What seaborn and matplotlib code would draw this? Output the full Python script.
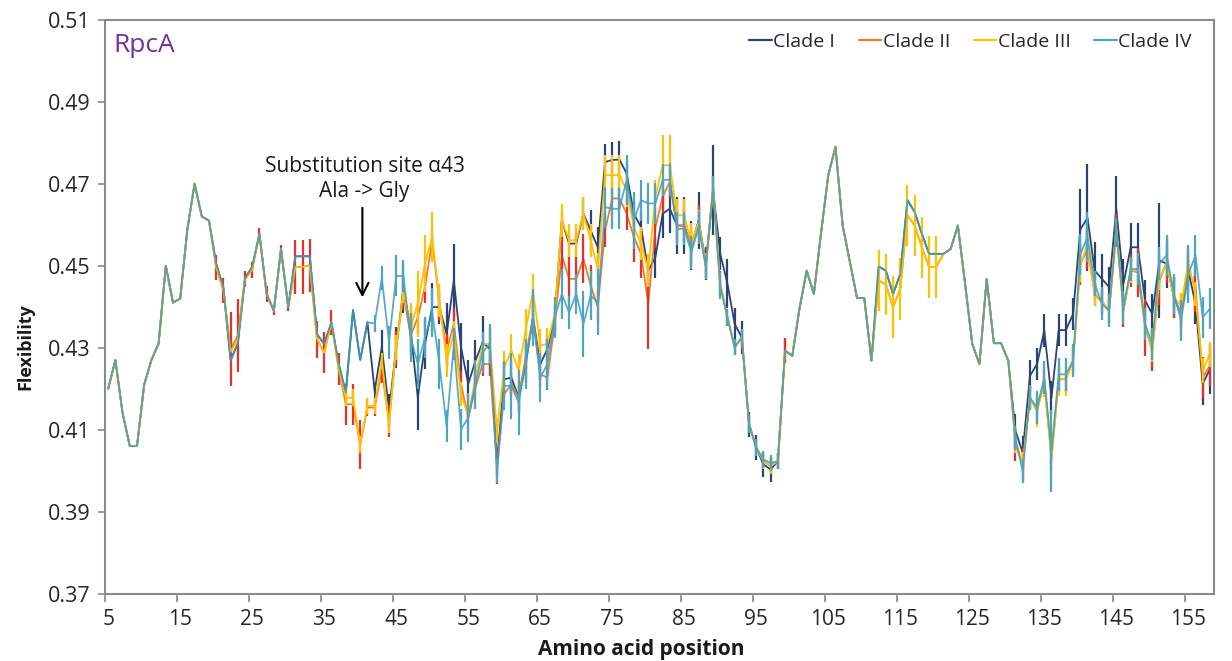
import matplotlib
matplotlib.use("Agg")
import numpy as np
import pandas as pd
import seaborn as sns
import matplotlib.pyplot as plt
from matplotlib.lines import Line2D

# ---------------- data ----------------
positions = list(range(5, 159))
clades = ["Clade I", "Clade II", "Clade III", "Clade IV"]
x_tick_labels = [str(v) for v in range(5, 156, 10)]
y_ticks = [0.37, 0.39, 0.41, 0.43, 0.45, 0.47, 0.49, 0.51]

clade_I = [
    0.420, 0.427, 0.414, 0.406, 0.406, 0.421, 0.427, 0.431, 0.450, 0.441,
    0.442, 0.459, 0.470, 0.462, 0.461, 0.4505, 0.4445, 0.427, 0.431, 0.447,
    0.4497, 0.4578, 0.4431, 0.4390, 0.4541, 0.4399, 0.4523, 0.4523, 0.4523, 0.4333,
    0.4309, 0.4362, 0.4260, 0.4191, 0.4392, 0.4270, 0.4362, 0.4195, 0.4302, 0.4146,
    0.4300, 0.4444, 0.4342, 0.4178, 0.4309, 0.4399, 0.4399, 0.4333, 0.4464, 0.4301,
    0.4211, 0.4268, 0.4313, 0.4297, 0.4023, 0.4223, 0.4227, 0.4178, 0.4265, 0.4374,
    0.4260, 0.4297, 0.4374, 0.4611, 0.4554, 0.4554, 0.4627, 0.4586, 0.4545, 0.4753,
    0.4758, 0.4759, 0.4725, 0.4627, 0.4594, 0.4488, 0.4521, 0.4627, 0.4639, 0.4598,
    0.4598, 0.4550, 0.4611, 0.4505, 0.4684, 0.4529, 0.4456, 0.4358, 0.4325, 0.4113,
    0.4056, 0.4015, 0.4003, 0.4023, 0.4293, 0.4280, 0.4395, 0.4488, 0.4431, 0.4580,
    0.4721, 0.4790, 0.4598, 0.4509, 0.4421, 0.4421, 0.4268, 0.4498, 0.4488, 0.4431,
    0.4480, 0.4660, 0.4631, 0.4578, 0.4529, 0.4529, 0.4529, 0.4541, 0.4598, 0.4456,
    0.4309, 0.4260, 0.4468, 0.4311, 0.4311, 0.4268, 0.4097, 0.4044, 0.4231, 0.4260,
    0.4342, 0.4178, 0.4343, 0.4343, 0.4382, 0.4588, 0.4617, 0.4488, 0.4468, 0.4448,
    0.4639, 0.4456, 0.4545, 0.4545, 0.4415, 0.4382, 0.4513, 0.4505, 0.4423, 0.4382,
    0.4488, 0.4407, 0.4211, 0.4248,
]
clade_II = [
    0.420, 0.427, 0.414, 0.406, 0.406, 0.421, 0.427, 0.431, 0.450, 0.441,
    0.442, 0.459, 0.470, 0.462, 0.461, 0.4495, 0.4440, 0.4296, 0.4330, 0.4468,
    0.4490, 0.4578, 0.4431, 0.4390, 0.4541, 0.4399, 0.4497, 0.4497, 0.4501, 0.4321,
    0.4288, 0.4362, 0.4248, 0.4162, 0.4162, 0.4064, 0.4154, 0.4154, 0.4244, 0.4121,
    0.4300, 0.4431, 0.4329, 0.4374, 0.4448, 0.4562, 0.4407, 0.4293, 0.4358, 0.4211,
    0.4129, 0.4203, 0.4260, 0.4260, 0.4007, 0.4187, 0.4211, 0.4178, 0.4280, 0.4374,
    0.4235, 0.4227, 0.4358, 0.4525, 0.4468, 0.4468, 0.4517, 0.4452, 0.4399, 0.4586,
    0.4664, 0.4664, 0.4627, 0.4570, 0.4529, 0.4407, 0.4594, 0.4668, 0.4705, 0.4598,
    0.4598, 0.4545, 0.4607, 0.4500, 0.4690, 0.4456, 0.4374, 0.4301, 0.4325, 0.4113,
    0.4056, 0.4023, 0.4011, 0.4023, 0.4293, 0.4280, 0.4395, 0.4488, 0.4431, 0.4580,
    0.4721, 0.4790, 0.4598, 0.4509, 0.4421, 0.4421, 0.4268, 0.4464, 0.4454, 0.4399,
    0.4443, 0.4623, 0.4598, 0.4545, 0.4497, 0.4497, 0.4529, 0.4541, 0.4598, 0.4456,
    0.4309, 0.4260, 0.4468, 0.4311, 0.4311, 0.4268, 0.4064, 0.4015, 0.4178, 0.4146,
    0.4219, 0.4031, 0.4223, 0.4223, 0.4268, 0.4503, 0.4541, 0.4431, 0.4411, 0.4390,
    0.4586, 0.4390, 0.4488, 0.4484, 0.4350, 0.4293, 0.4464, 0.4509, 0.4423, 0.4382,
    0.4488, 0.4448, 0.4227, 0.4256,
]
clade_III = [
    0.420, 0.427, 0.414, 0.406, 0.406, 0.421, 0.427, 0.431, 0.450, 0.441,
    0.442, 0.459, 0.470, 0.462, 0.461, 0.4495, 0.4440, 0.4290, 0.4320, 0.4468,
    0.4490, 0.4578, 0.4431, 0.4390, 0.4541, 0.4399, 0.4497, 0.4497, 0.4501, 0.4321,
    0.4288, 0.4362, 0.4248, 0.4178, 0.4178, 0.4064, 0.4158, 0.4158, 0.4268, 0.4113,
    0.4300, 0.4439, 0.4350, 0.4407, 0.4505, 0.4570, 0.4415, 0.4268, 0.4334, 0.4187,
    0.4133, 0.4227, 0.4309, 0.4309, 0.4097, 0.4252, 0.4293, 0.4244, 0.4345, 0.4439,
    0.4305, 0.4309, 0.4382, 0.4611, 0.4562, 0.4562, 0.4627, 0.4562, 0.4492, 0.4721,
    0.4721, 0.4721, 0.4684, 0.4594, 0.4554, 0.4488, 0.4668, 0.4745, 0.4745, 0.4623,
    0.4623, 0.4554, 0.4607, 0.4500, 0.4690, 0.4456, 0.4374, 0.4301, 0.4325, 0.4113,
    0.4056, 0.4023, 0.4011, 0.4023, 0.4293, 0.4280, 0.4395, 0.4488, 0.4431, 0.4580,
    0.4721, 0.4790, 0.4598, 0.4509, 0.4421, 0.4421, 0.4268, 0.4464, 0.4454, 0.4399,
    0.4443, 0.4623, 0.4598, 0.4545, 0.4497, 0.4497, 0.4529, 0.4541, 0.4598, 0.4456,
    0.4309, 0.4260, 0.4468, 0.4311, 0.4311, 0.4268, 0.4072, 0.4015, 0.4178, 0.4146,
    0.4219, 0.4027, 0.4223, 0.4223, 0.4268, 0.4500, 0.4553, 0.4431, 0.4415, 0.4390,
    0.4586, 0.4395, 0.4488, 0.4488, 0.4355, 0.4295, 0.4470, 0.4505, 0.4423, 0.4403,
    0.4509, 0.4431, 0.4244, 0.4284,
]
clade_IV = [
    0.420, 0.427, 0.414, 0.406, 0.406, 0.421, 0.427, 0.431, 0.450, 0.441,
    0.442, 0.459, 0.470, 0.462, 0.461, 0.4504, 0.4447, 0.4268, 0.4310, 0.4468,
    0.4497, 0.4578, 0.4431, 0.4390, 0.4541, 0.4399, 0.4523, 0.4523, 0.4523, 0.4333,
    0.4309, 0.4362, 0.4260, 0.4191, 0.4392, 0.4270, 0.4362, 0.4359, 0.4470, 0.4313,
    0.4475, 0.4475, 0.4325, 0.4260, 0.4325, 0.4386, 0.4260, 0.4109, 0.4309, 0.4101,
    0.4129, 0.4211, 0.4289, 0.4309, 0.3999, 0.4207, 0.4207, 0.4166, 0.4260, 0.4374,
    0.4227, 0.4260, 0.4374, 0.4431, 0.4386, 0.4431, 0.4358, 0.4427, 0.4411, 0.4643,
    0.4639, 0.4639, 0.4709, 0.4611, 0.4660, 0.4652, 0.4652, 0.4709, 0.4710, 0.4590,
    0.4590, 0.4533, 0.4594, 0.4497, 0.4688, 0.4448, 0.4374, 0.4301, 0.4325, 0.4113,
    0.4056, 0.4027, 0.4019, 0.4023, 0.4293, 0.4280, 0.4395, 0.4488, 0.4431, 0.4580,
    0.4721, 0.4790, 0.4598, 0.4509, 0.4421, 0.4421, 0.4268, 0.4498, 0.4488, 0.4431,
    0.4480, 0.4660, 0.4631, 0.4578, 0.4529, 0.4529, 0.4529, 0.4541, 0.4598, 0.4456,
    0.4309, 0.4260, 0.4468, 0.4311, 0.4311, 0.4268, 0.4080, 0.3999, 0.4178, 0.4154,
    0.4227, 0.4048, 0.4235, 0.4235, 0.4268, 0.4528, 0.4570, 0.4456, 0.4407, 0.4390,
    0.4586, 0.4399, 0.4492, 0.4492, 0.4358, 0.4309, 0.4505, 0.4525, 0.4431, 0.4366,
    0.4480, 0.4525, 0.4374, 0.4395,
]

err_I = [
    0, 0, 0, 0, 0, 0, 0, 0, 0, 0,
    0, 0, 0, 0, 0, 0, 0, 0, 0, 0,
    0, 0, 0, 0, 0, 0, 0, 0, 0, 0,
    0, 0, 0, 0, 0, 0, 0, 0.002, 0.004, 0.004,
    0.005, 0.006, 0.006, 0.008, 0.006, 0.006, 0.004, 0.0075, 0.009, 0.006,
    0.006, 0.005, 0.0065, 0.005, 0.003, 0.004, 0.004, 0.004, 0.005, 0.004,
    0.004, 0.003, 0.003, 0.002, 0.002, 0.002, 0.004, 0.005, 0.005, 0.0045,
    0.0045, 0.0045, 0.003, 0.003, 0.004, 0.004, 0.005, 0.006, 0.006, 0.007,
    0.007, 0.006, 0.007, 0.004, 0.011, 0.004, 0.006, 0.004, 0.004, 0.003,
    0.003, 0.003, 0.003, 0.002, 0.003, 0, 0, 0, 0, 0,
    0, 0, 0, 0, 0, 0, 0, 0, 0, 0,
    0, 0, 0, 0, 0, 0, 0, 0, 0, 0,
    0, 0, 0, 0, 0, 0, 0.004, 0.004, 0.004, 0.004,
    0.004, 0.004, 0.004, 0.004, 0.004, 0.010, 0.013, 0.007, 0.006, 0.005,
    0.008, 0.006, 0.006, 0.006, 0.005, 0.005, 0.014, 0.006, 0.005, 0.005,
    0.006, 0.005, 0.005, 0.006,
]
err_II = [
    0, 0, 0, 0, 0, 0, 0, 0, 0, 0,
    0, 0, 0, 0, 0, 0.003, 0.003, 0.009, 0.009, 0.002,
    0.002, 0.0015, 0.002, 0.001, 0.001, 0.001, 0.0065, 0.0065, 0.0065, 0.0045,
    0.005, 0.003, 0.004, 0.005, 0.005, 0.006, 0.002, 0.002, 0.003, 0.004,
    0.004, 0.003, 0.004, 0.004, 0.004, 0.003, 0.004, 0.004, 0.004, 0.003,
    0.003, 0.003, 0.003, 0.003, 0.004, 0.003, 0.003, 0.003, 0.003, 0.003,
    0.003, 0.003, 0.003, 0.005, 0.006, 0.006, 0.006, 0.005, 0.004, 0.004,
    0.004, 0.004, 0.004, 0.006, 0.006, 0.011, 0.005, 0.004, 0.004, 0.004,
    0.004, 0.004, 0.004, 0.003, 0.003, 0.003, 0.002, 0.002, 0.002, 0.002,
    0.002, 0.002, 0.002, 0.002, 0.003, 0, 0, 0, 0, 0,
    0, 0, 0, 0, 0, 0, 0, 0, 0, 0,
    0, 0, 0, 0, 0, 0, 0, 0, 0, 0,
    0, 0, 0, 0, 0, 0, 0.004, 0.004, 0.003, 0.003,
    0.003, 0.003, 0.003, 0.003, 0.003, 0.005, 0.005, 0.003, 0.003, 0.003,
    0.004, 0.004, 0.004, 0.006, 0.007, 0.005, 0.006, 0.005, 0.005, 0.003,
    0.004, 0.006, 0.005, 0.005,
]
err_III = [
    0, 0, 0, 0, 0, 0, 0, 0, 0, 0,
    0, 0, 0, 0, 0, 0, 0, 0, 0, 0,
    0, 0, 0, 0, 0, 0, 0, 0, 0, 0,
    0, 0, 0, 0.002, 0.002, 0.002, 0.002, 0.002, 0.002, 0.002,
    0.003, 0.003, 0.006, 0.008, 0.007, 0.006, 0.004, 0.004, 0.003, 0.003,
    0.002, 0.003, 0.003, 0.002, 0.003, 0.004, 0.004, 0.004, 0.005, 0.004,
    0.004, 0.004, 0.004, 0.004, 0.004, 0.004, 0.004, 0.004, 0.004, 0.005,
    0.005, 0.005, 0.004, 0.004, 0.004, 0.004, 0.004, 0.0075, 0.0075, 0.004,
    0.004, 0.005, 0.003, 0.003, 0.003, 0.002, 0.002, 0.002, 0.002, 0.002,
    0.002, 0.002, 0.002, 0.002, 0, 0, 0, 0, 0, 0,
    0, 0, 0, 0, 0, 0, 0, 0.0075, 0.0075, 0.0075,
    0.0075, 0.0075, 0.0075, 0.0075, 0.0075, 0.0075, 0, 0, 0, 0,
    0, 0, 0, 0, 0, 0, 0.003, 0.003, 0.003, 0.004,
    0.004, 0.005, 0.004, 0.004, 0.004, 0.004, 0.004, 0.003, 0.003, 0.003,
    0.003, 0.003, 0.003, 0.003, 0.003, 0.003, 0.003, 0.003, 0.003, 0.003,
    0.003, 0.003, 0.003, 0.003,
]
err_IV = [
    0, 0, 0, 0, 0, 0, 0, 0, 0, 0,
    0, 0, 0, 0, 0, 0, 0, 0, 0, 0,
    0, 0, 0, 0, 0, 0, 0, 0, 0, 0,
    0, 0, 0, 0, 0, 0, 0, 0.002, 0.003, 0.004,
    0.005, 0.004, 0.006, 0.006, 0.005, 0.006, 0.006, 0.004, 0.004, 0.005,
    0.006, 0.006, 0.005, 0.005, 0.003, 0.006, 0.008, 0.008, 0.006, 0.007,
    0.006, 0.006, 0.005, 0.006, 0.004, 0.005, 0.008, 0.006, 0.008, 0.005,
    0.005, 0.005, 0.006, 0.007, 0.005, 0.005, 0.005, 0.004, 0.004, 0.004,
    0.004, 0.004, 0.004, 0.003, 0.003, 0.003, 0.002, 0.002, 0.002, 0.002,
    0.002, 0.002, 0.002, 0.002, 0, 0, 0, 0, 0, 0,
    0, 0, 0, 0, 0, 0, 0, 0, 0, 0,
    0, 0, 0, 0, 0, 0, 0, 0, 0, 0,
    0, 0, 0, 0, 0, 0, 0.003, 0.003, 0.003, 0.004,
    0.004, 0.010, 0.004, 0.004, 0.004, 0.005, 0.006, 0.003, 0.004, 0.004,
    0.003, 0.004, 0.003, 0.004, 0.004, 0.004, 0.004, 0.005, 0.005, 0.005,
    0.007, 0.005, 0.005, 0.005,
]

line_colors = ["#2B4473", "#ED7D31", "#FFC000", "#3F9DBA"]
err_colors = ["#2B4473", "#E8302A", "#FFC000", "#4BA5C3"]
line_alpha = [1.0, 1.0, 1.0, 0.85]

# ---------------- figure ----------------
sns.set_theme(style="white")
plt.rcParams["font.family"] = ["Open Sans", "DejaVu Sans"]

W, H = 1232, 661
fig = plt.figure(figsize=(W / 100, H / 100), dpi=100)
x_left, x_right, y_top, y_bot = 104.6, 1213.5, 19.8, 593.6
ax = fig.add_axes([x_left / W, 1 - y_bot / H, (x_right - x_left) / W, (y_bot - y_top) / H])

series = [clade_I, clade_II, clade_III, clade_IV]
errors = [err_I, err_II, err_III, err_IV]
pos_arr = np.array(positions)
for i, (name, vals, errs) in enumerate(zip(clades, series, errors)):
    d = pd.DataFrame({"pos": positions, "flex": vals, "clade": name})
    sns.lineplot(data=d, x="pos", y="flex", color=line_colors[i], linewidth=1.3,
                 alpha=line_alpha[i], ax=ax, legend=False, estimator=None, sort=False,
                 zorder=3 + 2 * i)
    v = np.array(vals)
    e = np.array(errs)
    m = e > 0
    ax.vlines(pos_arr[m], v[m] - e[m], v[m] + e[m], colors=err_colors[i],
              linewidth=1.6, zorder=4 + 2 * i)

ax.set_xlim(4.5, 158.5)
ax.set_ylim(0.37, 0.51)
ax.set_yticks(y_ticks)
ax.set_yticklabels([f"{t:.2f}" for t in y_ticks])
ax.set_xticks(list(range(5, 156, 10)))
ax.set_xticklabels(x_tick_labels)
ax.set_xticks([p - 0.5 for p in range(5, 158, 10)], minor=True)
ax.tick_params(axis="x", which="major", length=0, pad=11, labelsize=15, labelcolor="#262626")
ax.tick_params(axis="x", which="minor", length=6, width=1.2, color="#8a8a8a", direction="out", bottom=True)
ax.tick_params(axis="y", which="major", length=5, width=1.2, color="#8a8a8a", direction="out",
               left=True, pad=5, labelsize=15.5, labelcolor="#262626")
ax.set_xlabel("")
ax.set_ylabel("")
for s in ax.spines.values():
    s.set_visible(True)
    s.set_color("#8a8a8a")
    s.set_linewidth(1.5)

fig.text(641 / W, 1 - 650 / H, "Amino acid position", ha="center", va="center",
         fontsize=15, fontweight="bold", color="#1a1a1a")
fig.text(25 / W, 1 - 347 / H, "Flexibility", ha="center", va="center", rotation=90,
         fontsize=13, fontweight="bold", color="#1a1a1a")

ax.text(0.0075, 0.955, "RpcA", transform=ax.transAxes, ha="left", va="center",
        fontsize=19, color="#7030A0")

ax.text(40.6, 0.4712, "Substitution site α43\nAla -> Gly", ha="center", va="center",
        fontsize=15, linespacing=1.25, color="#1a1a1a", zorder=20)
ax.annotate("", xy=(40.3, 0.4416), xytext=(40.3, 0.4648),
            arrowprops=dict(arrowstyle="->", lw=1.5, color="black", mutation_scale=22),
            zorder=20)

handles = [Line2D([0], [0], color=c, lw=1.6) for c in ["#2B4473", "#ED7D31", "#FFC000", "#4BA5C3"]]
fig.legend(handles, clades, loc="center right", bbox_to_anchor=(1192 / W, 1 - 42 / H),
           ncol=4, frameon=False, fontsize=14, handlelength=1.15, handletextpad=0.1,
           columnspacing=1.2, borderpad=0, borderaxespad=0)

fig.savefig("out.png", dpi=100)
